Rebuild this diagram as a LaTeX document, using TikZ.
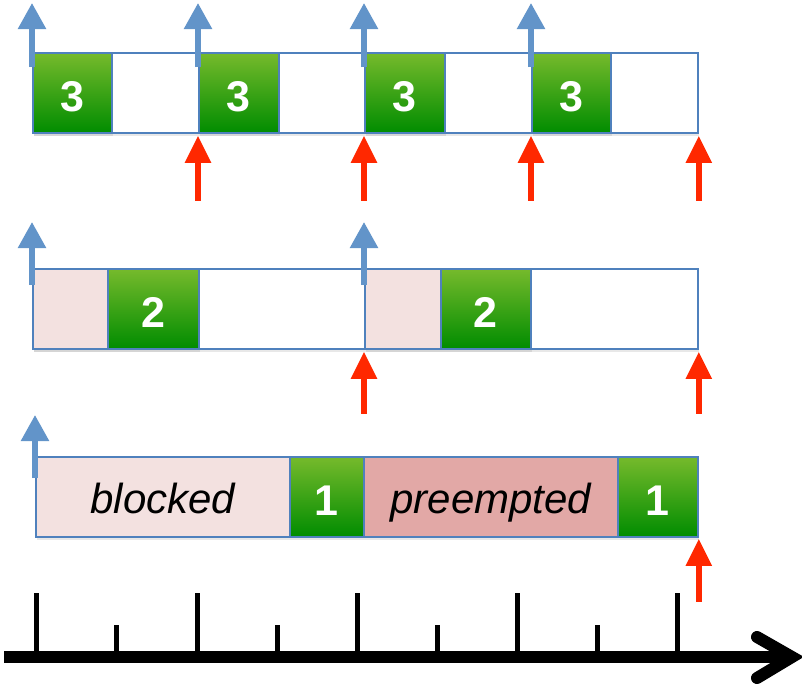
\documentclass[tikz,border=0pt]{standalone}
\usepackage{fontspec}
\setmainfont{Liberation Sans}
\usetikzlibrary{arrows.meta,calc,shadows}

\definecolor{frameblue}{RGB}{79,129,189}
\definecolor{releaseblue}{RGB}{98,148,201}
\definecolor{deadred}{RGB}{255,40,0}
\definecolor{gtop}{RGB}{118,186,44}
\definecolor{gbot}{RGB}{0,140,0}
\definecolor{blockpink}{RGB}{243,225,224}
\definecolor{preemptpink}{RGB}{226,168,166}

\begin{document}
\begin{tikzpicture}[x=1pt,y=-1pt,
  slot/.style={draw=frameblue,line width=1.8pt,inner sep=0pt,anchor=north west,
    minimum height=80pt},
  soft/.style={drop shadow={shadow xshift=1.5pt,shadow yshift=-3pt,opacity=0.18}},
  job/.style={slot,soft,top color=gtop,bottom color=gbot,text=white,
    font=\fontsize{43}{43}\selectfont\bfseries,text height=38pt,text depth=0pt},
  waitbox/.style={slot,soft,fill=blockpink,font=\fontsize{42}{42}\selectfont\itshape,
    text height=34pt,text depth=0pt},
  prebox/.style={waitbox,fill=preemptpink},
  frame/.style={slot,soft,fill=white},
  release/.style={draw=releaseblue,line width=5.5pt,
    -{Triangle[width=27pt,length=26pt]}},
  deadline/.style={draw=deadred,line width=5.5pt,
    -{Triangle[width=25pt,length=27pt]}},
  tick/.style={line width=5pt},
]
\useasboundingbox (0,0) rectangle (802,688);

% ---- task 3: period 2 units, one unit of work each period ----
\node[frame,minimum width=665pt] (f1) at (32,52) {};
\node[job,minimum width=79pt] (t31) at (32,52) {3};
\node[job,minimum width=80pt] (t32) at (198,52) {3};
\node[job,minimum width=80pt] (t33) at (364,52) {3};
\node[job,minimum width=79pt] (t34) at (531,52) {3};

\foreach \n in {t31,t32,t33,t34}
  \draw[release] ($(\n.north west)+(0,15)$) -- ($(\n.north west)+(0,-49)$);
\foreach \n in {t32,t33,t34}
  \draw[deadline] ($(\n.south west)+(0,67)$) -- ($(\n.south west)+(0,2)$);
\draw[deadline] ($(f1.south east)+(0,67)$) -- ($(f1.south east)+(0,2)$);

% ---- task 2: period 4 units ----
\node[frame,minimum width=665pt] (f2) at (32,268) {};
\node[waitbox,minimum width=75pt] (w21) at (32,268) {};
\node[job,minimum width=91pt] (t21) at (107,268) {2};
\node[waitbox,minimum width=76pt] (w22) at (364,268) {};
\node[job,minimum width=90pt] (t22) at (440,268) {2};

\foreach \n in {w21,w22}
  \draw[release] ($(\n.north west)+(0,17)$) -- ($(\n.north west)+(0,-46)$);
\draw[deadline] ($(w22.south west)+(0,64)$) -- ($(w22.south west)+(0,2)$);
\draw[deadline] ($(f2.south east)+(0,64)$) -- ($(f2.south east)+(0,2)$);

% ---- task 1: one long period, blocked then preempted ----
\node[waitbox,minimum width=254pt] (b1) at (35,456) {blocked};
\node[job,minimum width=74pt] (t11) at (289,456) {1};
\node[prebox,minimum width=254pt] (p1) at (363,456) {preempted};
\node[job,minimum width=80pt] (t12) at (617,456) {1};

\draw[release] ($(b1.north west)+(0,22)$) -- ($(b1.north west)+(0,-41)$);
\draw[deadline] ($(t12.south east)+(0,64)$) -- ($(t12.south east)+(0,1)$);

% ---- time axis ----
\coordinate (ax0) at (4,657);
\coordinate (ax1) at (792,657);
\foreach \x in {36,197,357,517,677}
  \draw[tick] (\x,657) -- (\x,593);
\foreach \x in {116,277,437,597}
  \draw[tick] (\x,657) -- (\x,625);
\draw[line width=12pt] (ax0) -- (ax1);
\draw[line width=12pt,line cap=round,miter limit=10]
  ($(ax1)+(-35,-20)$) -- ($(ax1)+(0,0)$) -- ($(ax1)+(-35,21)$);
\end{tikzpicture}
\end{document}
